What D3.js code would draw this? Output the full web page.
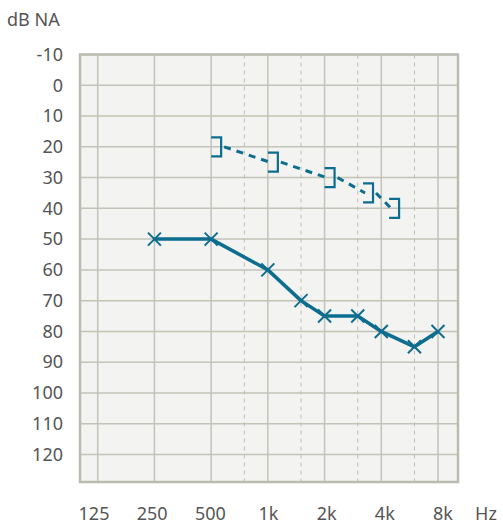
<!DOCTYPE html>
<meta charset="utf-8">
<script src="https://d3js.org/d3.v7.min.js"></script>
<style>
  body { margin: 0; background: #fff; }
  text { font-family: "Noto Sans", "Open Sans", sans-serif; fill: #555; font-size: 18px; }
</style>
<div id="my_dataviz"></div>
<script>

  // air conduction (crosses)
  var acFreq = [250, 500, 1000, 1500, 2000, 3000, 4000, 6000, 8000];
  var acLevel = [50, 50, 60, 70, 75, 75, 80, 85, 80];

  // bone conduction (brackets)
  var bcFreq = [500, 1000, 2000, 3200, 4400];
  var bcLevel = [20, 25, 30, 35, 40];

  var octaveFreqs = [125, 250, 500, 1000, 2000, 4000, 8000];
  var octaveLabels = ["125", "250", "500", "1k", "2k", "4k", "8k"];
  var halfFreqs = [750, 1500, 3000, 6000];
  var levelTicks = [-10, 0, 10, 20, 30, 40, 50, 60, 70, 80, 90, 100, 110, 120];

  var width = 503, height = 525;
  var blue = "#0d6d8e";

  var svg = d3.select("#my_dataviz")
    .append("svg")
    .attr("width", width)
    .attr("height", height);

  var x = d3.scaleLog().base(2)
    .domain([125, 8000])
    .range([97.7, 438]);

  var y = d3.scaleLinear()
    .domain([-10, 120])
    .range([54.5, 454.5]);

  // labels under the chart are spaced a bit wider than the grid
  var xLab = d3.scalePoint()
    .domain(octaveLabels)
    .range([94, 443]);

  var frame = { left: 80, right: 458, top: 54.5, bottom: 482 };

  // plot background
  svg.append("rect")
    .attr("x", frame.left).attr("y", frame.top)
    .attr("width", frame.right - frame.left)
    .attr("height", frame.bottom - frame.top)
    .attr("fill", "#f3f3f1");

  // horizontal grid
  svg.selectAll(".hgrid")
    .data(levelTicks)
    .enter().append("line")
    .attr("x1", frame.left).attr("x2", frame.right)
    .attr("y1", function (d) { return y(d); })
    .attr("y2", function (d) { return y(d); })
    .attr("stroke", "#c4c3b9")
    .attr("stroke-width", 1.5);

  // vertical grid, octaves
  svg.selectAll(".vgrid")
    .data(octaveFreqs)
    .enter().append("line")
    .attr("x1", function (d) { return x(d); })
    .attr("x2", function (d) { return x(d); })
    .attr("y1", frame.top).attr("y2", frame.bottom)
    .attr("stroke", "#c4c3b9")
    .attr("stroke-width", 1.5);

  // vertical grid, half octaves (dashed)
  svg.selectAll(".vhalf")
    .data(halfFreqs)
    .enter().append("line")
    .attr("x1", function (d) { return x(d); })
    .attr("x2", function (d) { return x(d); })
    .attr("y1", frame.top).attr("y2", frame.bottom)
    .attr("stroke", "#bdbdb6")
    .attr("stroke-width", 1)
    .attr("stroke-dasharray", "4,4");

  // frame
  svg.append("rect")
    .attr("x", frame.left).attr("y", frame.top)
    .attr("width", frame.right - frame.left)
    .attr("height", frame.bottom - frame.top)
    .attr("fill", "none")
    .attr("stroke", "#bcbbb1")
    .attr("stroke-width", 2.5);

  // y labels
  svg.selectAll(".ylab")
    .data(levelTicks)
    .enter().append("text")
    .attr("x", 63)
    .attr("y", function (d) { return y(d); })
    .attr("dy", "0.35em")
    .attr("text-anchor", "end")
    .text(function (d) { return d; });

  svg.append("text")
    .attr("x", 7).attr("y", 26)
    .text("dB NA");

  // x labels
  svg.selectAll(".xlab")
    .data(octaveLabels)
    .enter().append("text")
    .attr("x", function (d) { return xLab(d); })
    .attr("y", 520)
    .attr("text-anchor", "middle")
    .text(function (d) { return d; });

  svg.append("text")
    .attr("x", 486).attr("y", 520)
    .attr("text-anchor", "middle")
    .text("Hz");

  // bone conduction dashed connectors (from right side of bracket to next bracket)
  var bc = bcFreq.map(function (f, i) { return { f: f, v: bcLevel[i] }; });
  var segs = d3.pairs(bc);
  svg.selectAll(".bcseg")
    .data(segs)
    .enter().append("line")
    .attr("x1", function (d) { return x(d[0].f) + 13; })
    .attr("y1", function (d) { return y(d[0].v); })
    .attr("x2", function (d) { return x(d[1].f) + 2; })
    .attr("y2", function (d) { return y(d[1].v); })
    .attr("stroke", blue)
    .attr("stroke-width", 3)
    .attr("stroke-dasharray", "7,6");

  // brackets
  svg.selectAll(".bracket")
    .data(bc)
    .enter().append("path")
    .attr("d", function (d) {
      var cx = x(d.f), cy = y(d.v);
      return "M" + cx + "," + (cy - 9.5) + "H" + (cx + 10) + "V" + (cy + 9.5) + "H" + cx;
    })
    .attr("fill", "none")
    .attr("stroke", blue)
    .attr("stroke-width", 2.2);

  // air conduction line
  var ac = acFreq.map(function (f, i) { return { f: f, v: acLevel[i] }; });
  svg.append("path")
    .datum(ac)
    .attr("d", d3.line()
      .x(function (d) { return x(d.f); })
      .y(function (d) { return y(d.v); }))
    .attr("fill", "none")
    .attr("stroke", blue)
    .attr("stroke-width", 3.5)
    .attr("stroke-linejoin", "round");

  // crosses
  svg.selectAll(".cross")
    .data(ac)
    .enter().append("path")
    .attr("d", function (d) {
      var cx = x(d.f), cy = y(d.v), s = 6.5;
      return "M" + (cx - s) + "," + (cy - s) + "L" + (cx + s) + "," + (cy + s) +
        "M" + (cx - s) + "," + (cy + s) + "L" + (cx + s) + "," + (cy - s);
    })
    .attr("stroke", blue)
    .attr("stroke-width", 2);

</script>
